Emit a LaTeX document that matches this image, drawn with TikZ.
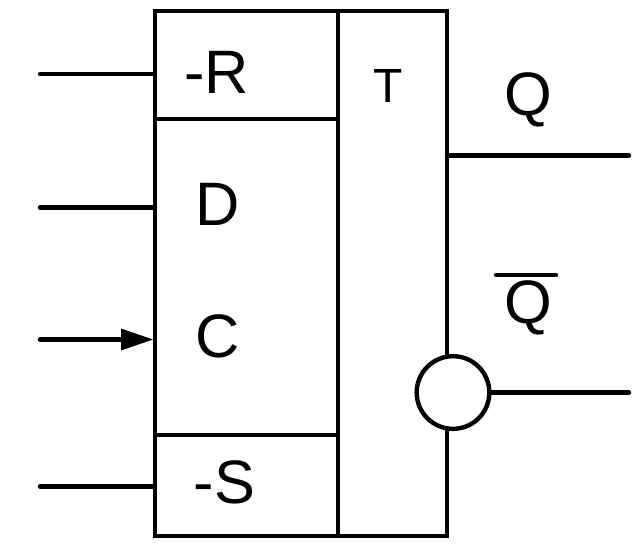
\documentclass[tikz,border=0pt]{standalone}
\usepackage{fontspec}
\setmainfont{Liberation Sans}
\usetikzlibrary{arrows.meta}
\tikzset{
  ln/.style={line width=3.5pt,draw=black},
  pin/.style={line width=3.3pt,draw=black,line cap=round},
  lbl/.style={inner sep=0pt,font=\fontsize{46}{46}\selectfont,anchor=base},
}
\begin{document}
\begin{tikzpicture}[x=0.75pt,y=-0.75pt]
\useasboundingbox (0,0) rectangle (638,547);
\fill[white] (0,0) rectangle (638,547);
\draw[ln] (155,11) rectangle (447,536);
\draw[ln] (338,11) -- (338,536);
\draw[line width=3pt] (155,119) -- (338,119);
\draw[line width=3pt] (155,434.5) -- (338,434.5);
\coordinate (a1) at (40,74); \coordinate (a2) at (155,74);
\coordinate (b1) at (40,207.5); \coordinate (b2) at (155,207.5);
\coordinate (c1) at (40,339.5); \coordinate (c2) at (155,339.5);
\coordinate (d1) at (40,486.5); \coordinate (d2) at (155,486.5);
\coordinate (q1) at (447,155.5); \coordinate (q2) at (629,155.5);
\coordinate (n2) at (629,392.5);
\draw[pin] (a1) -- (a2);
\draw[pin] (b1) -- (b2);
\draw[pin] (c1) -- (125,339.5);
\fill (121,328.5) -- (153,339.5) -- (121,350.5) -- cycle;
\draw[pin] (d1) -- (d2);
\draw[pin] (q1) -- (q2);
\node[circle,draw=black,line width=3.3pt,fill=white,minimum size=54.5pt,inner sep=0pt] (inv) at (453,392.5) {};
\draw[pin] (inv.east) -- (n2);
\node[lbl] (r) at (216.5,93) {-R};
\node[lbl] (dd) at (218,225) {D};
\node[lbl] (cc) at (218,357) {C};
\node[lbl] (s) at (224.5,503) {-S};
\node[lbl,font=\fontsize{36}{36}\selectfont] (t) at (388,102) {T};
\node[lbl] (q) at (528.5,115) {Q};
\node[lbl] (qb) at (528.5,323) {Q};
\draw[pin] (496,275) -- (556,275);
\end{tikzpicture}
\end{document}
